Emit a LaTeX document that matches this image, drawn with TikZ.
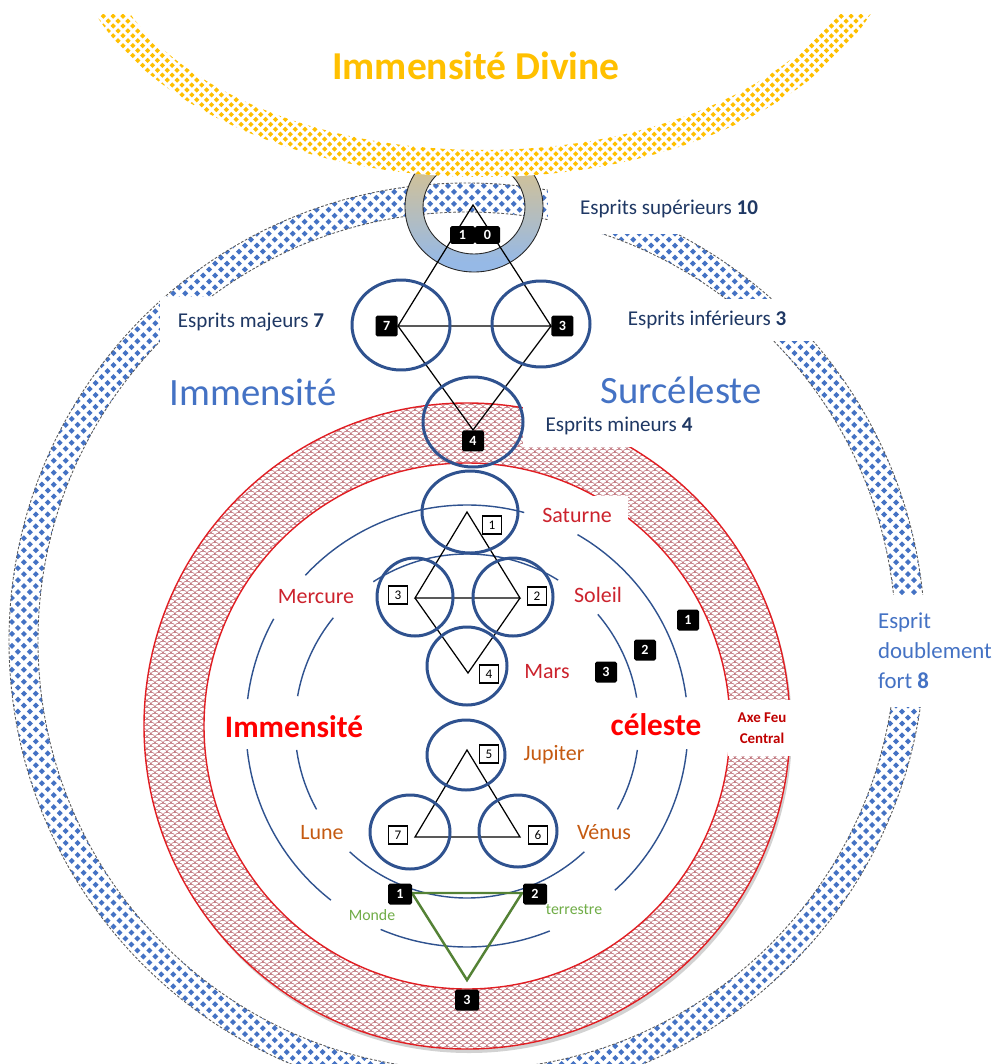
\documentclass[tikz,border=0pt]{standalone}
\usepackage{fontspec}
\setmainfont{Carlito}
\usetikzlibrary{patterns}

\definecolor{navyline}{RGB}{47,82,143}
\definecolor{navytext}{RGB}{31,56,100}
\definecolor{skyblue}{RGB}{68,114,196}
\definecolor{goldc}{RGB}{255,192,0}
\definecolor{planetred}{RGB}{204,35,45}
\definecolor{planetorange}{RGB}{197,90,17}
\definecolor{brightred}{RGB}{255,0,0}
\definecolor{darkred}{RGB}{192,0,0}
\definecolor{earthgreen}{RGB}{84,130,53}
\definecolor{labelgreen}{RGB}{112,173,71}
\definecolor{scalered}{RGB}{178,85,95}
\definecolor{bandred}{RGB}{225,30,35}
\definecolor{ringblue}{RGB}{150,185,230}
\definecolor{ringgray}{RGB}{188,194,206}
\definecolor{ringtan}{RGB}{204,192,158}

% diamond dots for the two outer bands
\pgfdeclarepatternformonly{bluedots}{\pgfpoint{-1.8pt}{-1.8pt}}{\pgfpoint{5.2pt}{5.2pt}}{\pgfpoint{6.8pt}{6.8pt}}{%
	\pgfpathmoveto{\pgfpoint{-1.7pt}{0pt}}\pgfpathlineto{\pgfpoint{0pt}{1.7pt}}\pgfpathlineto{\pgfpoint{1.7pt}{0pt}}\pgfpathlineto{\pgfpoint{0pt}{-1.7pt}}\pgfpathclose
	\pgfpathmoveto{\pgfpoint{1.7pt}{3.4pt}}\pgfpathlineto{\pgfpoint{3.4pt}{5.1pt}}\pgfpathlineto{\pgfpoint{5.1pt}{3.4pt}}\pgfpathlineto{\pgfpoint{3.4pt}{1.7pt}}\pgfpathclose
	\pgfusepath{fill}}
\pgfdeclarepatternformonly{golddots}{\pgfpoint{-1.6pt}{-1.6pt}}{\pgfpoint{4.4pt}{4.4pt}}{\pgfpoint{5.6pt}{5.6pt}}{%
	\pgfpathmoveto{\pgfpoint{-1.5pt}{0pt}}\pgfpathlineto{\pgfpoint{0pt}{1.5pt}}\pgfpathlineto{\pgfpoint{1.5pt}{0pt}}\pgfpathlineto{\pgfpoint{0pt}{-1.5pt}}\pgfpathclose
	\pgfpathmoveto{\pgfpoint{1.3pt}{2.8pt}}\pgfpathlineto{\pgfpoint{2.8pt}{4.3pt}}\pgfpathlineto{\pgfpoint{4.3pt}{2.8pt}}\pgfpathlineto{\pgfpoint{2.8pt}{1.3pt}}\pgfpathclose
	\pgfusepath{fill}}
% fish scales for the red band
\pgfdeclarepatternformonly{scales}{\pgfpointorigin}{\pgfpoint{4.8pt}{3.6pt}}{\pgfpoint{4.8pt}{3.6pt}}{%
	\pgfsetlinewidth{0.3pt}
	\pgfpathmoveto{\pgfpointorigin}
	\pgfpathcurveto{\pgfpoint{0pt}{2.4pt}}{\pgfpoint{4.8pt}{2.4pt}}{\pgfpoint{4.8pt}{0pt}}
	\pgfpathmoveto{\pgfpoint{-2.4pt}{1.8pt}}
	\pgfpathcurveto{\pgfpoint{-2.4pt}{4.2pt}}{\pgfpoint{2.4pt}{4.2pt}}{\pgfpoint{2.4pt}{1.8pt}}
	\pgfpathcurveto{\pgfpoint{2.4pt}{4.2pt}}{\pgfpoint{7.2pt}{4.2pt}}{\pgfpoint{7.2pt}{1.8pt}}
	\pgfusepath{stroke}}

\tikzset{
	orbit/.style={draw=navyline, line width=0.8pt},
	sphere/.style={draw=navyline, line width=1.7pt},
	blackbox/.style={fill=black, text=white, font=\bfseries\fontsize{8}{8}\selectfont, minimum width=0.44cm, minimum height=0.42cm, inner sep=0pt, rounded corners=1pt},
	whitebox/.style={draw=black, fill=white, line width=0.6pt, font=\fontsize{7.5}{8}\selectfont, minimum width=0.38cm, minimum height=0.36cm, inner sep=0pt},
	esprit/.style={text=navytext, font=\fontsize{12}{14}\selectfont, fill=white, inner sep=0pt},
	planet/.style={text=planetred, font=\fontsize{12.5}{14}\selectfont},
	lowplanet/.style={text=planetorange, font=\fontsize{12.5}{14}\selectfont},
	earth/.style={text=labelgreen, font=\fontsize{9}{10}\selectfont},
	band/.style={even odd rule, preaction={fill=white}}
}

\begin{document}
\begin{tikzpicture}[x=0.02cm, y=0.02cm]
	\useasboundingbox (0,0) rectangle (1001,-1064);
	\clip (0,0) rectangle (1001,-1064);

	% Immensite surceleste
	\draw [band, pattern=bluedots, pattern color=skyblue, draw=gray!70!black, line width=0.5pt, dash pattern=on 1.5pt off 1pt]
		(467,-641) circle (458) (467,-641) circle (429);

	% the ring at the top
	\begin{scope}[even odd rule]
		\clip (474,-207) ellipse [x radius=69, y radius=65] (474,-207) ellipse [x radius=51, y radius=47];
		\shade [top color=goldc, bottom color=ringtan] (400,-140) rectangle (550,-178);
		\shade [top color=ringtan, middle color=ringgray, bottom color=ringblue] (400,-178) rectangle (550,-262);
		\fill [ringblue] (400,-262) rectangle (550,-275);
	\end{scope}
	\draw [gray!30!black, line width=0.5pt] (474,-207) ellipse [x radius=69, y radius=65];
	\draw [gray!30!black, line width=0.5pt] (474,-207) ellipse [x radius=51, y radius=47];

	% Immensite divine
	\begin{scope}
		\clip (0,-15) rectangle (1001,-1064);
		\fill [band, pattern=golddots, pattern color=goldc]
			(483,77) ellipse [x radius=415, y radius=254] (483,77) ellipse [x radius=385, y radius=227];
	\end{scope}

	% Immensite celeste
	\fill [gray, opacity=0.35, even odd rule] (469,-730) circle (323) (469,-730) circle (263);
	\draw [band, pattern=scales, pattern color=scalered, draw=bandred, line width=0.8pt]
		(467,-726) circle (323) (467,-726) circle (263);

	\node [text=goldc, font=\bfseries\fontsize{22.5}{24}\selectfont] (divine) at (476,-66) {Immensité Divine};
	\node [esprit, minimum width=4.84cm, minimum height=1.0cm] (sup) at (669,-209) {Esprits supérieurs \textbf{10}};
	\node [esprit, minimum width=3.64cm, minimum height=1.0cm] (maj) at (251,-322) {Esprits majeurs \textbf{7}};
	\node [esprit, minimum width=4.3cm, minimum height=0.84cm] (inf) at (707,-320) {Esprits inférieurs \textbf{3}};
	\node [esprit, minimum width=3.84cm, minimum height=0.84cm] (mineur) at (619,-426) {Esprits mineurs \textbf{4}};
	\node [text=skyblue, font=\fontsize{22}{24}\selectfont] (immA) at (253,-392) {Immensité};
	\node [text=skyblue, font=\fontsize{22}{24}\selectfont] (surc) at (681,-390) {Surcéleste};
	\node [fill=white, inner sep=0pt, minimum width=2.62cm, minimum height=2.24cm, align=left, text=skyblue, font=\fontsize{13}{17}\selectfont] (fort) at (935,-651) {Esprit\\doublement\\fort \textbf{8}};

	\node [planet, fill=white, inner sep=0pt, minimum width=2.02cm, minimum height=0.76cm] (saturne) at (577,-515) {Saturne};
	\node [planet] (mercure) at (316,-597) {Mercure};
	\node [planet] (soleil) at (598,-595) {Soleil};
	\node [planet] (mars) at (547,-672) {Mars};
	\node [text=brightred, font=\bfseries\fontsize{17.8}{20}\selectfont] (immB) at (294,-727) {Immensité};
	\node [text=brightred, font=\bfseries\fontsize{17.8}{20}\selectfont] (celeste) at (656,-725) {céleste};
	\node [fill=white, inner sep=0pt, minimum width=1.38cm, minimum height=1.12cm, align=center, text=darkred, font=\bfseries\fontsize{8.5}{12}\selectfont] (axe) at (762,-728) {Axe Feu\\Central};
	\node [lowplanet] (jupiter) at (554,-755) {Jupiter};
	\node [lowplanet] (lune) at (322,-833) {Lune};
	\node [lowplanet] (venus) at (604,-832) {Vénus};
	\node [earth] (monde) at (372,-915) {Monde};
	\node [earth] (terrestre) at (574,-910) {terrestre};

	% orbits
	\foreach \a/\b in {75/137, 7.5/60, -48/-6, -113/-68, 186/232, 151/173}
		\draw [orbit] (467,-726) ++(\a:221) arc [start angle=\a, end angle=\b, radius=221];
	\foreach \a/\b in {58/123, 9.5/40.5, -29/-8, -133/-47, 188/209, 141/170}
		\draw [orbit] (467,-726) ++(\a:172) arc [start angle=\a, end angle=\b, radius=172];

	% triangles
	\coordinate (t10) at (473,-205);
	\coordinate (t7) at (398,-326);
	\coordinate (t3) at (551,-326);
	\coordinate (t4) at (473,-430);
	\draw [black, line width=0.7pt] (t10) -- (t7) -- (t3) -- cycle;
	\draw [black, line width=0.7pt] (t7) -- (t4) -- (t3);

	\coordinate (p1) at (467,-512);
	\coordinate (p3) at (415,-598);
	\coordinate (p2) at (520,-598);
	\coordinate (p4) at (468,-673);
	\draw [black, line width=0.7pt] (p1) -- (p3) -- (p2) -- cycle;
	\draw [black, line width=0.7pt] (p3) -- (p4) -- (p2);

	\coordinate (p5) at (467,-750);
	\coordinate (p7) at (415,-837);
	\coordinate (p6) at (520,-837);
	\draw [black, line width=0.7pt] (p5) -- (p7) -- (p6) -- cycle;

	\coordinate (g1) at (412,-893);
	\coordinate (g2) at (522,-893);
	\coordinate (g3) at (467,-980);
	\draw [earthgreen, line width=1.4pt] (g1) -- (g2) -- (g3) -- cycle;

	% spheres
	\draw [sphere] (401,-325) ellipse [x radius=49, y radius=45];
	\draw [sphere] (541,-324) ellipse [x radius=49, y radius=43];
	\draw [sphere] (473,-422) ellipse [x radius=50, y radius=45];
	\draw [sphere] (470,-512) ellipse [x radius=48, y radius=41];
	\draw [sphere] (415,-597) ellipse [x radius=38, y radius=39];
	\draw [sphere] (513,-597) ellipse [x radius=40, y radius=39];
	\draw [sphere] (467,-666) ellipse [x radius=40, y radius=39];
	\draw [sphere] (466,-755) ellipse [x radius=39, y radius=35];
	\draw [sphere] (410,-832) ellipse [x radius=40, y radius=37];
	\draw [sphere] (518,-831) ellipse [x radius=39, y radius=36];

	% numbers
	\node [blackbox, minimum width=0.5cm, minimum height=0.36cm] (n1a) at (462.5,-235) {1};
	\node [blackbox, minimum width=0.5cm, minimum height=0.36cm] (n1b) at (487.5,-235) {0};
	\node [blackbox, anchor=east] (n7) at (t7) {7};
	\node [blackbox, anchor=west] (n3) at (t3) {3};
	\node [blackbox, anchor=north] (n4) at (t4) {4};

	\node [whitebox] (w1) at (492,-525) {1};
	\node [whitebox] (w2) at (537,-596) {2};
	\node [whitebox] (w3) at (398,-595) {3};
	\node [whitebox] (w4) at (489,-674) {4};
	\node [whitebox] (w5) at (489,-754) {5};
	\node [whitebox] (w7) at (398,-835) {7};
	\node [whitebox] (w6) at (538,-835) {6};

	\node [blackbox] (f1) at (688,-620) {1};
	\node [blackbox] (f2) at (645,-650) {2};
	\node [blackbox] (f3) at (606,-672) {3};

	\node [blackbox, minimum width=0.48cm] (e1) at (400,-894) {1};
	\node [blackbox, minimum width=0.48cm] (e2) at (535,-894) {2};
	\node [blackbox, minimum width=0.48cm] (e3) at (467,-1000) {3};
\end{tikzpicture}
\end{document}
